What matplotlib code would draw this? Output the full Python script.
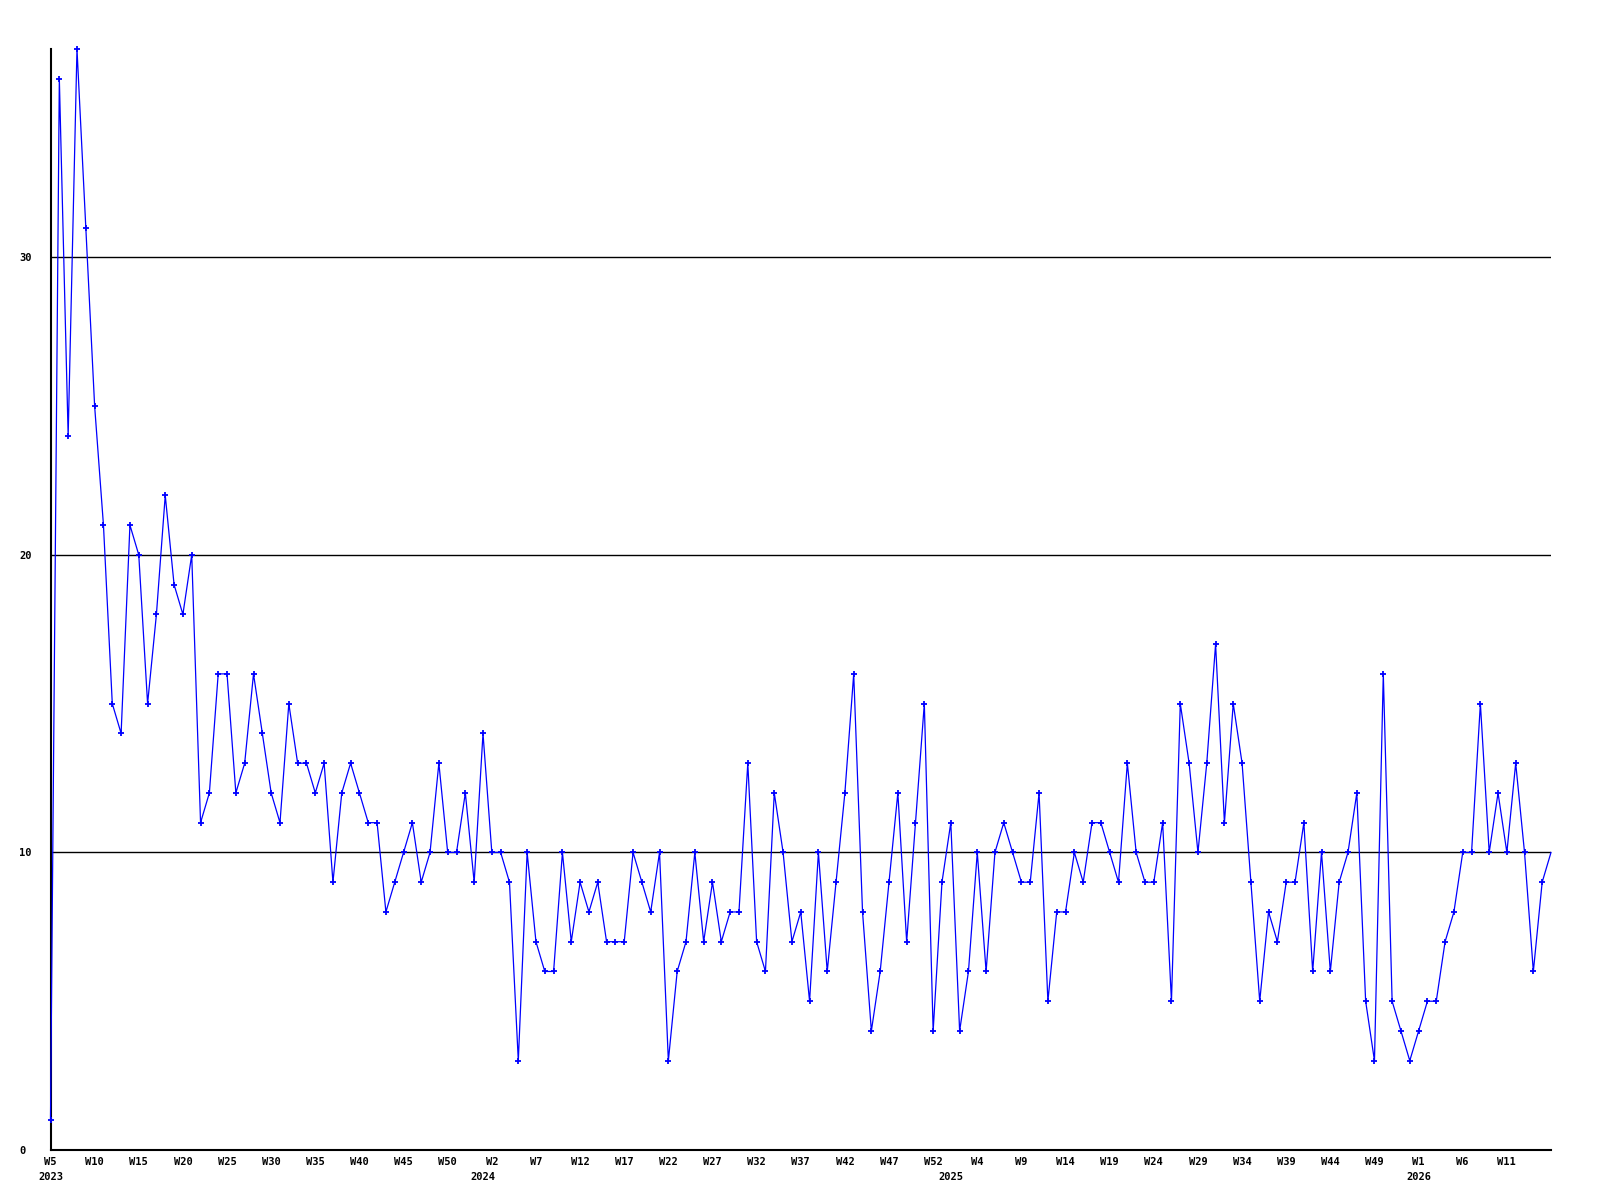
import matplotlib
matplotlib.use("Agg")
import matplotlib.pyplot as plt

# weekly counts, 2023 W5 .. 2026 W16 (one value per week)
values = [
    1, 36, 24, 37, 31, 25, 21, 15, 14, 21, 20, 15, 18, 22, 19, 18, 20,
    11, 12, 16, 16, 12, 13, 16, 14, 12, 11, 15, 13, 13, 12,
    13, 9, 12, 13, 12, 11, 11, 8, 9, 10, 11, 9, 10, 13, 10, 10, 12, 9, 14,
    10, 10, 9, 3, 10, 7, 6, 6, 10, 7, 9, 8, 9, 7, 7,
    7, 10, 9, 8, 10, 3, 6, 7, 10, 7, 9, 7, 8, 8, 13, 7, 6, 12, 10, 7, 8,
    5, 10, 6, 9, 12, 16, 8, 4, 6, 9, 12, 7, 11,
    15, 4, 9, 11, 4, 6, 10, 6, 10, 11, 10, 9, 9, 12, 5, 8, 8, 10, 9, 11,
    11, 10, 9, 13, 10, 9, 9, 11, 5, 15, 13, 10, 13, 17,
    11, 15, 13, 9, 5, 8, 7, 9, 9, 11, 6, 10, 6, 9, 10, 12, 5, 3, 16, 5,
    4, 3, 4, 5, 5, 7, 8, 10, 10, 15, 10, 12, 10, 13, 10, 6, 9, 10,
]

week_labels = ["W5", "W10", "W15", "W20", "W25", "W30", "W35", "W40", "W45", "W50",
               "W2", "W7", "W12", "W17", "W22", "W27", "W32", "W37", "W42", "W47", "W52",
               "W4", "W9", "W14", "W19", "W24", "W29", "W34", "W39", "W44", "W49",
               "W1", "W6", "W11"]
week_pos = [i * 5 for i in range(len(week_labels))]

year_labels = ["2023", "2024", "2025", "2026"]
year_pos = [0, 49, 102, 155]

y_ticks = [0, 10, 20, 30]

# small bold mono font, like the old gd chart
plt.rcParams["font.family"] = "DejaVu Sans Mono"
plt.rcParams["font.weight"] = "bold"
plt.rcParams["font.size"] = 7.5

fig = plt.figure(figsize=(16, 12), dpi=100)
ax = fig.add_axes([50.5 / 1600, 50 / 1200, 1500.5 / 1600, 1101 / 1200])

x = list(range(len(values)))
ax.plot(x, values, color="#0000ff", lw=0.9, marker="+", ms=5, mew=1.3,
        markevery=slice(0, len(values) - 1), clip_on=False, zorder=3)

ax.set_xlim(0, len(values) - 1)
ax.set_ylim(0, max(values))

ax.set_yticks(y_ticks)
ax.set_yticklabels([str(v) for v in y_ticks])
for lab in ax.get_yticklabels():
    lab.set_horizontalalignment("left")
ax.tick_params(axis="y", length=0, pad=22.5)
ax.yaxis.grid(True, color="black", lw=1)
ax.set_axisbelow(True)

ax.xaxis.remove_overlapping_locs = False
ax.set_xticks(week_pos)
ax.set_xticklabels(week_labels)
ax.set_xticks(year_pos, minor=True)
ax.set_xticklabels(year_labels, minor=True)
ax.tick_params(axis="x", which="major", length=0, pad=5)
ax.tick_params(axis="x", which="minor", length=0, pad=16)

for s in ["top", "right"]:
    ax.spines[s].set_visible(False)
for s in ["left", "bottom"]:
    ax.spines[s].set_color("black")
    ax.spines[s].set_linewidth(1.5)

fig.savefig("out.png", dpi=100, facecolor="white")
